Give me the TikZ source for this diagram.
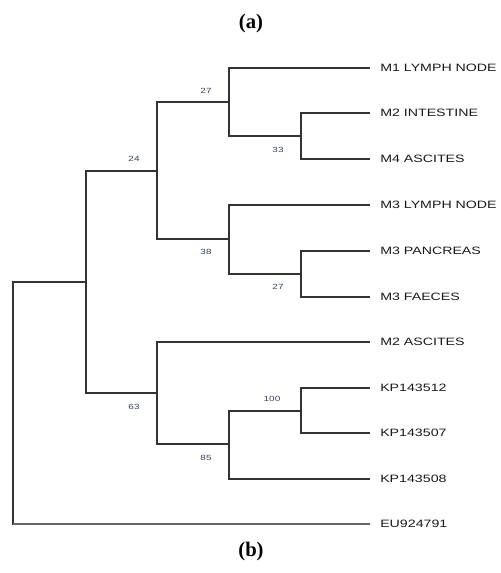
\documentclass[tikz,border=0pt]{standalone}
\usepackage{fontspec}
\usepackage{graphicx}
\setmainfont{Liberation Serif}
\setsansfont{Liberation Sans}
\definecolor{bootc}{RGB}{55,65,90}
\newcommand{\wide}[1]{\scalebox{1.33}[1]{#1}}
\begin{document}
\begin{tikzpicture}[x=0.75pt,y=-0.75pt,
  br/.style={draw=black!80,line width=1.1pt},
  leaf/.style={anchor=west,inner xsep=7.5pt,inner ysep=0pt,font=\sffamily\fontsize{8}{9}\selectfont,text=black!90},
  boot/.style={font=\sffamily\fontsize{5.6}{6}\selectfont,text=bootc,inner sep=0pt},
  captxt/.style={font=\bfseries\fontsize{15.5}{17}\selectfont,inner sep=0pt}]
\useasboundingbox (0,0) rectangle (500,573);
\node[captxt] (ta) at (251,24) {(a)};
\node[captxt] (tb) at (251,552) {(b)};
% internal nodes
\coordinate (root) at (13,402);
\coordinate (A) at (86,282);
\coordinate (B) at (157,171);
\coordinate (C) at (157,393);
\coordinate (D) at (229,102);
\coordinate (E) at (229,239);
\coordinate (F) at (229,444);
\coordinate (G) at (301,136);
\coordinate (H) at (301,274);
\coordinate (I) at (301,411);
% leaves
\node[leaf] (l1) at (370,68) {\wide{M1 LYMPH NODE}};
\node[leaf] (l2) at (370,113) {\wide{M2 INTESTINE}};
\node[leaf] (l3) at (370,159) {\wide{M4 ASCITES}};
\node[leaf] (l4) at (370,205) {\wide{M3 LYMPH NODE}};
\node[leaf] (l5) at (370,251) {\wide{M3 PANCREAS}};
\node[leaf] (l6) at (370,297) {\wide{M3 FAECES}};
\node[leaf] (l7) at (370,342) {\wide{M2 ASCITES}};
\node[leaf] (l8) at (370,388) {\wide{KP143512}};
\node[leaf] (l9) at (370,433) {\wide{KP143507}};
\node[leaf] (l10) at (370,479) {\wide{KP143508}};
\node[leaf] (l11) at (370,524) {\wide{EU924791}};
% branches
\draw[br] (A) -| (root) |- (l11.west);
\draw[br,draw=black!60] (13,524) -- (l11.west);
\draw[br] (A) |- (B);
\draw[br] (A) |- (C);
\draw[br] (B) |- (D);
\draw[br] (B) |- (E);
\draw[br] (D) |- (l1.west);
\draw[br] (D) |- (G);
\draw[br] (G) |- (l2.west);
\draw[br] (G) |- (l3.west);
\draw[br] (E) |- (l4.west);
\draw[br] (E) |- (H);
\draw[br] (H) |- (l5.west);
\draw[br] (H) |- (l6.west);
\draw[br] (C) |- (l7.west);
\draw[br] (C) |- (F);
\draw[br] (F) |- (I);
\draw[br] (F) |- (l10.west);
\draw[br] (I) |- (l8.west);
\draw[br] (I) |- (l9.west);
% bootstrap values
\node[boot] (b24) at (134,159) {\wide{24}};
\node[boot] (b27) at (206,91) {\wide{27}};
\node[boot] (b38) at (206,252) {\wide{38}};
\node[boot] (b33) at (278,150) {\wide{33}};
\node[boot] (b27b) at (278,287) {\wide{27}};
\node[boot] (b63) at (134,407) {\wide{63}};
\node[boot] (b85) at (206,458) {\wide{85}};
\node[boot] (b100) at (272,399) {\wide{100}};
\end{tikzpicture}
\end{document}
